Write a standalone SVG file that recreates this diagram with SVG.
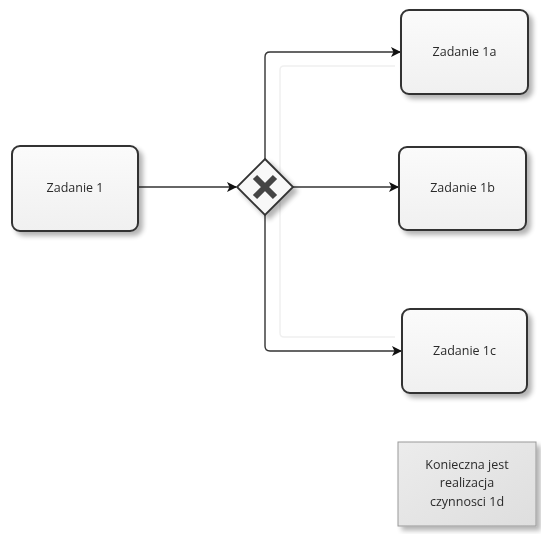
<svg xmlns="http://www.w3.org/2000/svg" width="541" height="534" viewBox="0 0 541 534">
<defs>
<linearGradient id="boxfill" x1="0" y1="0" x2="0" y2="1">
<stop offset="0" stop-color="#fbfbfb"/>
<stop offset="1" stop-color="#f0f0f0"/>
</linearGradient>
<linearGradient id="notefill" x1="0" y1="0" x2="1" y2="1">
<stop offset="0" stop-color="#ececec"/>
<stop offset="1" stop-color="#dedede"/>
</linearGradient>
<filter id="shadow" x="-10%" y="-10%" width="130%" height="130%">
<feGaussianBlur in="SourceAlpha" stdDeviation="2.5"/>
<feOffset dx="4" dy="4" result="b"/>
<feComponentTransfer><feFuncA type="linear" slope="0.3"/></feComponentTransfer>
<feMerge><feMergeNode/><feMergeNode in="SourceGraphic"/></feMerge>
</filter>
<marker id="arrow" markerWidth="10" markerHeight="10" refX="9" refY="5" orient="auto" markerUnits="userSpaceOnUse">
<path d="M0,0 L10,5 L0,10 L2.5,5 Z" fill="#111"/>
</marker>
</defs>
<style>
.task{fill:url(#boxfill);stroke:#333;stroke-width:2}
.lbl{font-family:"Open Sans","Noto Sans","Liberation Sans",sans-serif;font-size:12.5px;fill:#2a2a2a;text-anchor:middle}
.conn{fill:none;stroke:#333;stroke-width:1.4}
.ghost{fill:none;stroke:#f0f0f0;stroke-width:1.5}
</style>
<rect width="541" height="534" fill="#ffffff"/>
<g id="connectors">
<path class="ghost" d="M280,333 V70 Q280,66 284,66 H395"/>
<path class="ghost" d="M280,333 Q280,337 284,337 H395"/>
<path class="conn" d="M138,187 H236" marker-end="url(#arrow)"/>
<path class="conn" d="M265,160 V57 Q265,52 270,52 H400" marker-end="url(#arrow)"/>
<path class="conn" d="M292,187 H398" marker-end="url(#arrow)"/>
<path class="conn" d="M265,214 V346 Q265,351 270,351 H401" marker-end="url(#arrow)"/>
</g>
<g id="task1" filter="url(#shadow)">
<rect class="task" x="12" y="146" width="126" height="85" rx="8"/>
<text class="lbl" x="75" y="192">Zadanie 1</text>
</g>
<g id="gateway" filter="url(#shadow)">
<path d="M265,159 L293,187 L265,215 L237,187 Z" fill="#f8f8f8" stroke="#333" stroke-width="1.8"/>
<path d="M255,177 L275,197 M275,177 L255,197" stroke="#444" stroke-width="6" stroke-linecap="butt"/>
</g>
<g id="task1a" filter="url(#shadow)">
<rect class="task" x="401" y="10" width="127" height="84" rx="8"/>
<text class="lbl" x="464.5" y="56">Zadanie 1a</text>
</g>
<g id="task1b" filter="url(#shadow)">
<rect class="task" x="399" y="147" width="127" height="83" rx="8"/>
<text class="lbl" x="462.5" y="192">Zadanie 1b</text>
</g>
<g id="task1c" filter="url(#shadow)">
<rect class="task" x="402" y="309" width="125" height="84" rx="8"/>
<text class="lbl" x="464.5" y="355">Zadanie 1c</text>
</g>
<g id="note" filter="url(#shadow)">
<rect x="398" y="442" width="138" height="84" fill="url(#notefill)" stroke="#999" stroke-width="1"/>
<text class="lbl" x="467" y="469">Konieczna jest</text>
<text class="lbl" x="467" y="487">realizacja</text>
<text class="lbl" x="467" y="506">czynnosci 1d</text>
</g>
</svg>
